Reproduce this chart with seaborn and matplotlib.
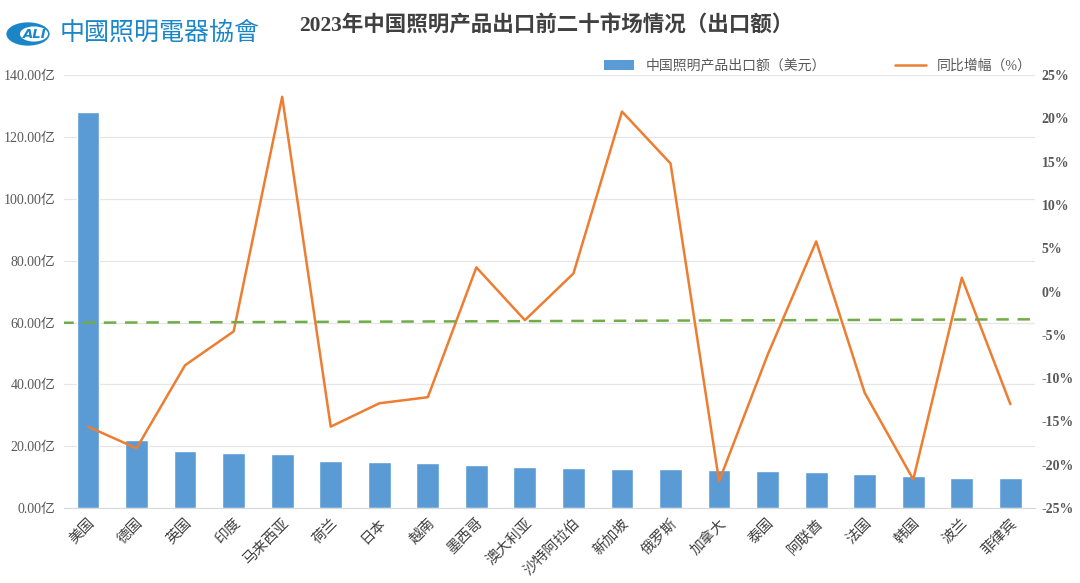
import numpy as np
import pandas as pd
import seaborn as sns
import matplotlib.pyplot as plt
from matplotlib.patches import Patch, Circle
from matplotlib.lines import Line2D
from matplotlib.ticker import FuncFormatter, MultipleLocator

countries = ['美国', '德国', '英国', '印度', '马来西亚', '荷兰', '日本', '越南', '墨西哥', '澳大利亚',
             '沙特阿拉伯', '新加坡', '俄罗斯', '加拿大', '泰国', '阿联酋', '法国', '韩国', '波兰', '菲律宾']
export_amount = [128.0, 22.0, 18.4, 17.8, 17.5, 15.2, 14.9, 14.5, 13.9, 13.3,
                 12.9, 12.6, 12.6, 12.3, 12.0, 11.6, 11.0, 10.3, 9.7, 9.7]
yoy_pct = [-15.6, -18.1, -8.5, -4.6, 22.5, -15.6, -12.9, -12.2, 2.8, -3.3,
           2.1, 20.8, 14.8, -21.9, -7.3, 5.8, -11.7, -21.7, 1.6, -13.0]
trend_pct = [-3.6, -3.2]  # dashed trend line, at first and last market

title = '2023年中国照明产品出口前二十市场情况（出口额）'
bar_label = '中国照明产品出口额（美元）'
line_label = '同比增幅（%）'

df = pd.DataFrame({'country': countries, 'amount': export_amount, 'pct': yoy_pct})
df['pos'] = np.arange(len(df))

sns.set_style('white')
plt.rcParams['font.family'] = ['Liberation Serif', 'Noto Sans CJK SC', 'DejaVu Sans']
plt.rcParams['axes.unicode_minus'] = False

blue = '#5B9BD5'
orange = '#ED7D31'
green = '#70AD47'
grey = '#595959'

fig = plt.figure(figsize=(10.8, 5.83), dpi=100)
ax = fig.add_axes([0.059, 0.1286, 0.899, 0.7424])

sns.barplot(data=df, x='country', y='amount', color=blue, width=0.47,
            saturation=1, ax=ax, zorder=2)
ax.set_ylim(0, 140)
ax.set_xlim(-0.5, len(df) - 0.5)
ax.yaxis.set_major_locator(MultipleLocator(20))
ax.yaxis.set_major_formatter(FuncFormatter(lambda v, p: f'{v:.2f}亿'))
ax.grid(axis='y', color='#E6E6E6', linewidth=0.9, zorder=0)
ax.set_axisbelow(True)
ax.set_xlabel('')
ax.set_ylabel('')
for s in ['left', 'right', 'top']:
    ax.spines[s].set_visible(False)
ax.spines['bottom'].set_color('#D9D9D9')
ax.tick_params(axis='y', length=0, labelsize=10, colors=grey, pad=6)
ax.tick_params(axis='x', length=0, labelsize=10.5, colors='#404040', pad=6)
for lbl in ax.get_xticklabels():
    lbl.set_rotation(45)
    lbl.set_ha('right')
    lbl.set_rotation_mode('anchor')

ax2 = ax.twinx()
sns.lineplot(data=df, x='pos', y='pct', color=orange, linewidth=1.8, ax=ax2, sort=False)
ax2.plot([df['pos'].iloc[0] - 0.55, df['pos'].iloc[-1] + 0.45], trend_pct,
         color=green, linewidth=1.8, linestyle=(0, (5, 3.5)), zorder=3)
ax2.set_ylim(-25, 25)
ax2.set_xlim(-0.5, len(df) - 0.5)
ax2.yaxis.set_major_locator(MultipleLocator(5))
ax2.yaxis.set_major_formatter(FuncFormatter(lambda v, p: f'{v:.0f}%'))
ax2.set_xlabel('')
ax2.set_ylabel('')
for s in ax2.spines.values():
    s.set_visible(False)
ax2.tick_params(axis='y', length=0, labelsize=10, colors=grey, pad=5)
for lbl in ax2.get_yticklabels():
    lbl.set_fontweight('bold')

handles = [Patch(facecolor=blue, edgecolor='none'),
           Line2D([0], [0], color=orange, linewidth=1.8)]
fig.legend(handles, [bar_label, line_label], loc='center', bbox_to_anchor=(0.757, 0.887),
           ncol=2, frameon=False, fontsize=10, columnspacing=5, handlelength=2.2,
           labelcolor=grey)

fig.text(0.506, 0.955, title, ha='center', va='center', fontsize=15.5,
         fontweight='bold', color='#404040')

# logo
fig.patches.append(Circle((28 / 1080, 1 - 34 / 583), 0.02, transform=fig.transFigure,
                          facecolor='#1A86C8', edgecolor='none'))
fig.patches.append(Circle((34 / 1080, 1 - 34 / 583), 0.013, transform=fig.transFigure,
                          facecolor='white', edgecolor='none'))
fig.text(35 / 1080, 1 - 34 / 583, 'ALI', ha='center', va='center', fontsize=9.5,
         fontweight='bold', color='#1A86C8', style='italic', family='DejaVu Sans')
fig.text(60 / 1080, 1 - 33 / 583, '中國照明電器協會', ha='left', va='center',
         fontsize=18, color='#1A86C8', family=['Noto Sans CJK TC', 'Noto Sans CJK SC'])

fig.savefig('out.png', dpi=100)
